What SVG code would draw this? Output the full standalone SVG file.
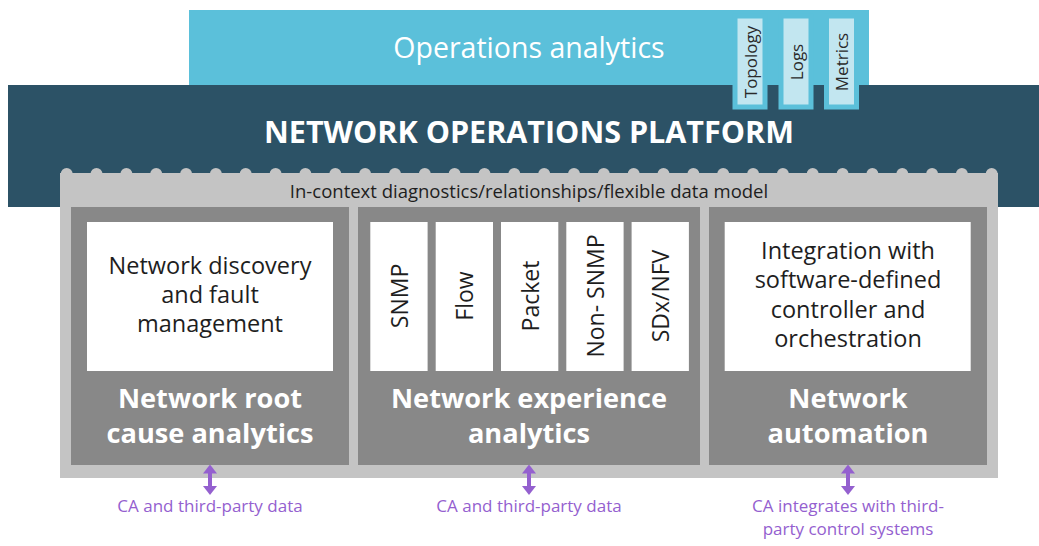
<svg xmlns="http://www.w3.org/2000/svg" width="1039" height="546" viewBox="0 0 1039 546">
<style>
text{font-family:"Open Sans","Noto Sans","Liberation Sans",sans-serif}
.w{fill:#fff}
.d{fill:#1e1e1e}
.box{fill:#fff}
.panel{fill:#888888}
.tab{fill:#c2e6f0;stroke:#5bc0da;stroke-width:5}
.lbl{font-weight:bold;font-size:27.2px;fill:#fff;text-anchor:middle}
.bt{font-size:23.5px;fill:#1e1e1e;text-anchor:middle}
.vt{font-size:23px;fill:#1e1e1e;text-anchor:middle;dominant-baseline:central}
.tt{font-size:17px;fill:#2a2a2a;text-anchor:middle;dominant-baseline:central}
.pl{font-size:17px;fill:#9460cf;text-anchor:middle}
.arr{stroke:#9460cf;stroke-width:4;fill:none;marker-start:url(#ah);marker-end:url(#ah)}
</style>
<defs>
<marker id="ah" viewBox="0 0 9 14" refX="1" refY="7" markerWidth="2.25" markerHeight="3.5" orient="auto-start-reverse" markerUnits="strokeWidth">
<path d="M0,0 L9,7 L0,14 z" fill="#9460cf"/>
</marker>
</defs>
<g id="ops-analytics">
<rect x="189" y="10" width="680" height="76" fill="#5bc0da"/>
<text x="529" y="58" font-size="28.5" class="w" text-anchor="middle">Operations analytics</text>
</g>
<g id="platform">
<rect x="8" y="85" width="1031" height="122" fill="#2c5266"/>
<text x="529" y="143" font-size="30.5" font-weight="bold" class="w" text-anchor="middle">NETWORK OPERATIONS PLATFORM</text>
</g>
<g id="tab-topology">
<rect class="tab" x="735" y="16" width="30" height="91"/>
<text class="tt" transform="translate(750,62) rotate(-90)">Topology</text>
</g>
<g id="tab-logs">
<rect class="tab" x="781" y="16" width="30" height="91"/>
<text class="tt" transform="translate(796,62) rotate(-90)">Logs</text>
</g>
<g id="tab-metrics">
<rect class="tab" x="826.5" y="16" width="30" height="91"/>
<text class="tt" transform="translate(841.5,62) rotate(-90)">Metrics</text>
</g>
<g id="data-model">
<rect x="60" y="173" width="938" height="305" fill="#c4c4c4"/>
<g fill="#c4c4c4">
<circle cx="66.7" cy="174" r="6"/><circle cx="96.5" cy="174" r="6"/><circle cx="126.4" cy="174" r="6"/><circle cx="156.2" cy="174" r="6"/><circle cx="186.1" cy="174" r="6"/><circle cx="215.9" cy="174" r="6"/><circle cx="245.7" cy="174" r="6"/><circle cx="275.6" cy="174" r="6"/><circle cx="305.4" cy="174" r="6"/><circle cx="335.3" cy="174" r="6"/><circle cx="365.1" cy="174" r="6"/><circle cx="395.0" cy="174" r="6"/><circle cx="424.8" cy="174" r="6"/><circle cx="454.6" cy="174" r="6"/><circle cx="484.5" cy="174" r="6"/><circle cx="514.3" cy="174" r="6"/><circle cx="544.2" cy="174" r="6"/><circle cx="574.0" cy="174" r="6"/><circle cx="603.8" cy="174" r="6"/><circle cx="633.7" cy="174" r="6"/><circle cx="663.5" cy="174" r="6"/><circle cx="693.4" cy="174" r="6"/><circle cx="723.2" cy="174" r="6"/><circle cx="753.1" cy="174" r="6"/><circle cx="782.9" cy="174" r="6"/><circle cx="812.7" cy="174" r="6"/><circle cx="842.6" cy="174" r="6"/><circle cx="872.4" cy="174" r="6"/><circle cx="902.3" cy="174" r="6"/><circle cx="932.1" cy="174" r="6"/><circle cx="961.9" cy="174" r="6"/><circle cx="991.7" cy="174" r="6"/>
</g>
<text x="529" y="198" font-size="18.5" class="d" text-anchor="middle">In-context diagnostics/relationships/flexible data model</text>
</g>
<g id="root-cause">
<rect class="panel" x="71" y="207" width="278" height="258"/>
<rect class="box" x="87" y="222" width="246" height="149"/>
<text class="bt" x="210" y="274">Network discovery</text>
<text class="bt" x="210" y="303">and fault</text>
<text class="bt" x="210" y="332">management</text>
<text class="lbl" x="210" y="408">Network root</text>
<text class="lbl" x="210" y="443">cause analytics</text>
</g>
<g id="experience">
<rect class="panel" x="358" y="207" width="342" height="258"/>
<rect class="box" x="370.3" y="222" width="57.3" height="149"/>
<rect class="box" x="435.7" y="222" width="57.3" height="149"/>
<rect class="box" x="501" y="222" width="57.3" height="149"/>
<rect class="box" x="566.3" y="222" width="57.3" height="149"/>
<rect class="box" x="631.6" y="222" width="57.3" height="149"/>
<text class="vt" transform="translate(399,296) rotate(-90)">SNMP</text>
<text class="vt" transform="translate(464.3,296) rotate(-90)">Flow</text>
<text class="vt" transform="translate(529.6,296) rotate(-90)">Packet</text>
<text class="vt" transform="translate(595,296) rotate(-90)">Non- SNMP</text>
<text class="vt" transform="translate(660.3,296) rotate(-90)">SDx/NFV</text>
<text class="lbl" x="529" y="408">Network experience</text>
<text class="lbl" x="529" y="443">analytics</text>
</g>
<g id="automation">
<rect class="panel" x="709" y="207" width="278" height="258"/>
<rect class="box" x="724.7" y="222" width="246" height="149"/>
<text class="bt" x="848" y="259">Integration with</text>
<text class="bt" x="848" y="288">software-defined</text>
<text class="bt" x="848" y="318">controller and</text>
<text class="bt" x="848" y="347">orchestration</text>
<text class="lbl" x="848" y="408">Network</text>
<text class="lbl" x="848" y="443">automation</text>
</g>
<g id="connectors">
<line class="arr" x1="210" y1="472.5" x2="210" y2="487"/>
<line class="arr" x1="529" y1="472.5" x2="529" y2="487"/>
<line class="arr" x1="848" y1="472.5" x2="848" y2="487"/>
</g>
<g id="labels">
<text class="pl" x="210" y="512">CA and third-party data</text>
<text class="pl" x="529" y="512">CA and third-party data</text>
<text class="pl" x="848" y="512">CA integrates with third-</text>
<text class="pl" x="848" y="535">party control systems</text>
</g>
</svg>
